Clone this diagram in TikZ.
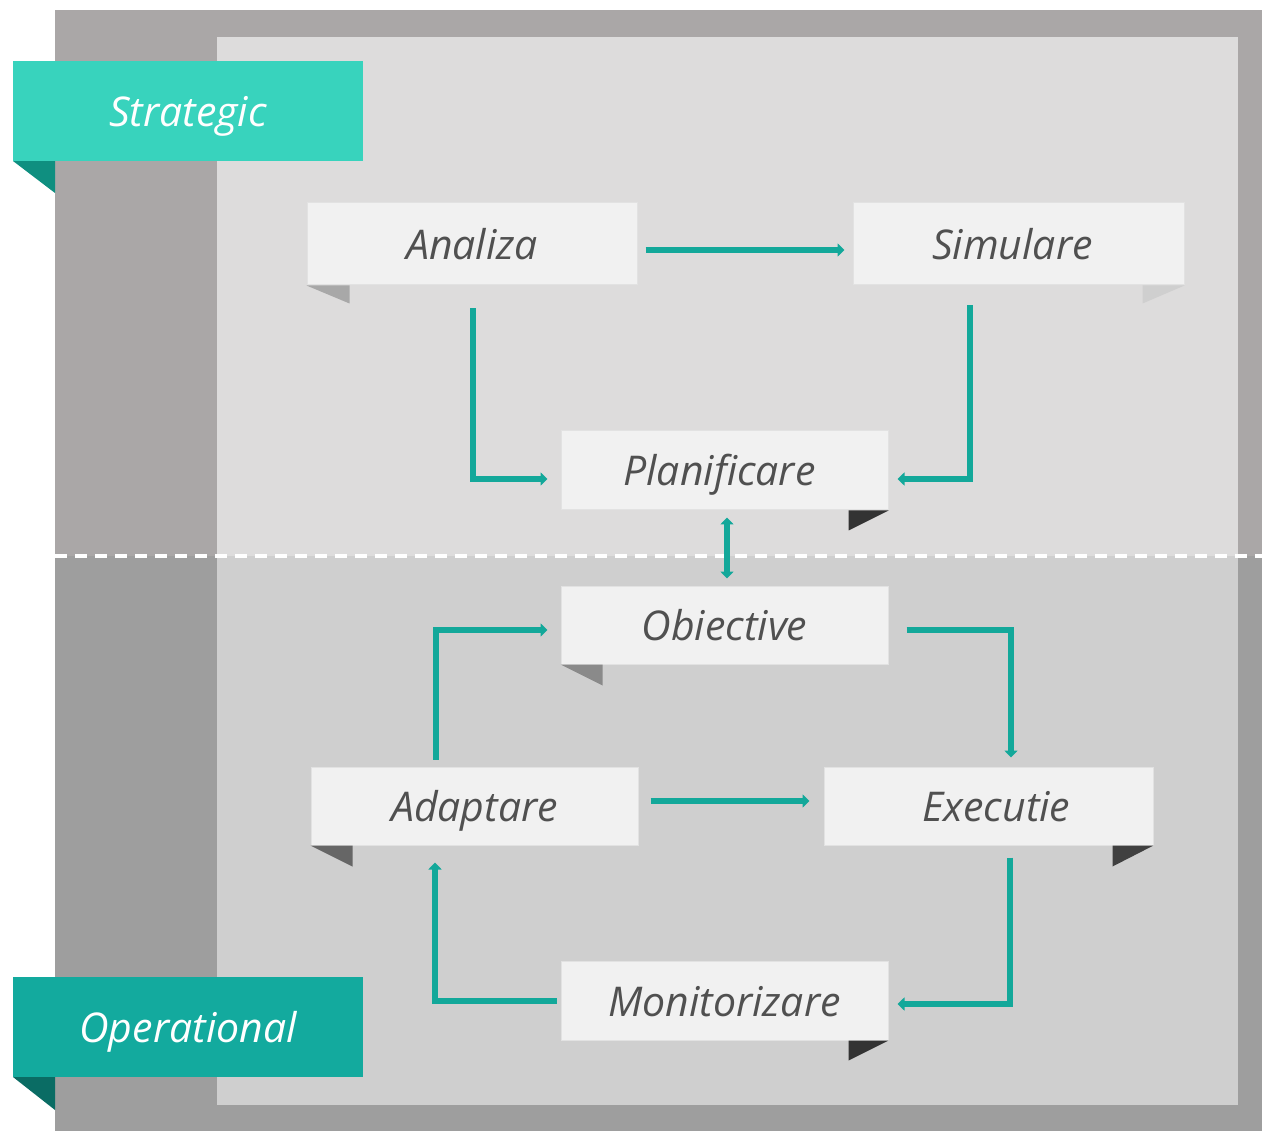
\documentclass[tikz,border=0pt]{standalone}
\usepackage{fontspec}
\setmainfont{Open Sans}
\usetikzlibrary{arrows.meta}
\definecolor{outerup}{HTML}{AAA7A7}
\definecolor{outerdn}{HTML}{9E9E9E}
\definecolor{innerup}{HTML}{DDDCDC}
\definecolor{innerdn}{HTML}{CFCFCF}
\definecolor{boxfill}{HTML}{F1F1F1}
\definecolor{boxline}{HTML}{E2E2E2}
\definecolor{txt}{HTML}{505050}
\definecolor{tealarr}{HTML}{13A89A}
\definecolor{stratc}{HTML}{38D3BD}
\definecolor{stratf}{HTML}{0F8F80}
\definecolor{operc}{HTML}{13AA9E}
\definecolor{operf}{HTML}{0A6C64}
\begin{document}
\begin{tikzpicture}[x=1pt,y=-1pt,
  lbl/.style={font=\fontsize{41}{49}\selectfont\itshape, text height=31pt, text depth=0pt},
  boxnode/.style={lbl, rectangle, fill=boxfill, draw=boxline, line width=1pt, text=txt, inner sep=0pt},
  ribbon/.style={lbl, rectangle, inner sep=0pt, minimum width=350pt, minimum height=100pt, text=white},
  arr/.style={draw=tealarr, line width=6pt, -{Triangle[length=7pt,width=13pt]}},
  darr/.style={draw=tealarr, line width=6pt, {Triangle[length=7pt,width=13pt]}-{Triangle[length=7pt,width=13pt]}}
]
\useasboundingbox (0,0) rectangle (1262,1131);
\fill[white] (0,0) rectangle (1262,1131);
% backgrounds
\fill[outerup] (55,10) rectangle (1262,556);
\fill[outerdn] (55,556) rectangle (1262,1131);
\fill[innerup] (217,37) rectangle (1238,556);
\fill[innerdn] (217,556) rectangle (1238,1105);
\coordinate (dashL) at (55,556);
\coordinate (dashR) at (1262,556);
\draw[white, line width=4pt, dash pattern=on 12pt off 8pt] (dashL) -- (dashR);
% ribbons
\fill[stratf] (13,161) -- (55,161) -- (55,193) -- cycle;
\node[ribbon, fill=stratc] (strat) at (188,111) {Strategic};
\fill[operf] (13,1077) -- (55,1077) -- (55,1110) -- cycle;
\node[ribbon, fill=operc] (oper) at (188,1027) {Operational};
% boxes
\node[boxnode, minimum width=330pt, minimum height=82pt] (ana) at (472,244) {Analiza};
\node[boxnode, minimum width=331pt, minimum height=82pt] (sim) at (1018.5,244) {Simulare\hspace*{12pt}};
\node[boxnode, minimum width=327pt, minimum height=79pt] (pla) at (724.5,470.5) {Planificare\hspace*{10pt}};
\node[boxnode, minimum width=327pt, minimum height=78pt] (obi) at (724.5,625) {Obiective};
\node[boxnode, minimum width=327pt, minimum height=78pt] (ada) at (474.5,806) {Adaptare};
\node[boxnode, minimum width=329pt, minimum height=78pt] (exe) at (988.5,806) {\hspace*{16pt}Executie};
\node[boxnode, minimum width=327pt, minimum height=79pt] (mon) at (724.5,1000.5) {Monitorizare};
% folds
\fill[black!34] (ana.south west) -- ++(43,0) -- ++(0,18) -- cycle;
\fill[black!19] (sim.south east) -- ++(-42,0) -- ++(0,18) -- cycle;
\fill[black!80] (pla.south east) -- ++(-40,0) -- ++(0,20) -- cycle;
\fill[black!46] (obi.south west) -- ++(42,0) -- ++(0,21) -- cycle;
\fill[black!60] (ada.south west) -- ++(42,0) -- ++(0,21) -- cycle;
\fill[black!75] (exe.south east) -- ++(-41,0) -- ++(0,21) -- cycle;
\fill[black!80] (mon.south east) -- ++(-40,0) -- ++(0,20) -- cycle;
% connectors
\draw[arr, shorten <=8pt, shorten >=8pt] ([yshift=-6pt]ana.east) -- ([yshift=-6pt]sim.west);
\draw[arr, shorten <=23pt, shorten >=13pt] ([xshift=1pt]ana.south) |- ([yshift=-8.5pt]pla.west);
\draw[arr, shorten <=20pt, shorten >=9pt] ([xshift=-48.5pt]sim.south) |- ([yshift=-8.5pt]pla.east);
\draw[darr, shorten <=7pt, shorten >=7pt] ([xshift=2.5pt]pla.south) -- ([xshift=2.5pt]obi.north);
\draw[arr, shorten <=18pt, shorten >=9pt] ([yshift=-5pt]obi.east) -| ([xshift=22.5pt]exe.north);
\draw[arr, shorten <=7pt, shorten >=13pt] ([xshift=-38.5pt]ada.north) |- ([yshift=-5pt]obi.west);
\draw[arr, shorten <=12pt, shorten >=14pt] ([yshift=5pt]ada.east) -- ([yshift=5pt]exe.west);
\draw[arr, shorten <=12pt, shorten >=9pt] ([xshift=21.5pt]exe.south) |- ([yshift=-3.5pt]mon.east);
\draw[arr, shorten <=4pt, shorten >=17pt] ([yshift=-0.5pt]mon.west) -| ([xshift=-39.5pt]ada.south);
\end{tikzpicture}
\end{document}
